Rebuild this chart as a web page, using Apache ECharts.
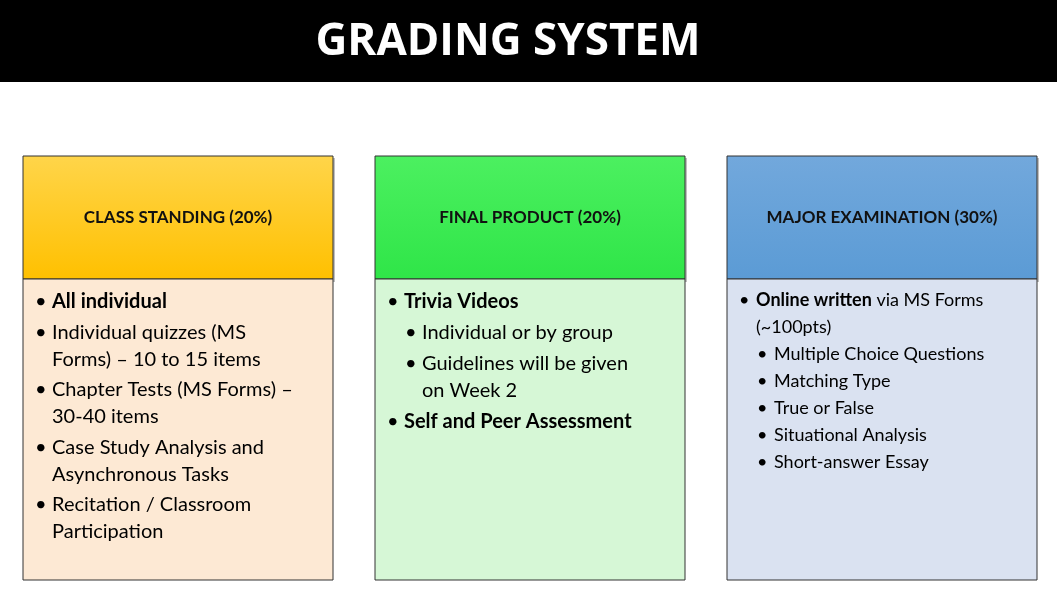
<!DOCTYPE html>
<html><head><meta charset="utf-8">
<script src="https://cdn.jsdelivr.net/npm/echarts@6/dist/echarts.min.js"></script>
<style>html,body{margin:0;padding:0;background:#fff}#c{width:1057px;height:605px}</style>
</head><body><div id="c"></div>
<script>
const title = "GRADING SYSTEM";
const headers = ["CLASS STANDING (20%)", "FINAL PRODUCT (20%)", "MAJOR EXAMINATION (30%)"];
const headerColors = [["#FFD54A","#FFC000"],["#4CF060","#2FE548"],["#72A8DC","#5B9BD5"]];
const bodyColors = ["#FDE9D4","#D6F7D6","#DAE2F1"];
// [text, level(0/1), bullet start?, bold prefix]
const box1 = [
  ["All individual",0,true,"All individual"],
  ["Individual quizzes (MS",0,true,""],["Forms) – 10 to 15 items",0,false,""],
  ["Chapter Tests (MS Forms) –",0,true,""],["30-40 items",0,false,""],
  ["Case Study Analysis and",0,true,""],["Asynchronous Tasks",0,false,""],
  ["Recitation / Classroom",0,true,""],["Participation",0,false,""]
];
const box2 = [
  ["Trivia Videos",0,true,"Trivia Videos"],
  ["Individual or by group",1,true,""],
  ["Guidelines will be given",1,true,""],["on Week 2",1,false,""],
  ["Self and Peer Assessment",0,true,"Self and Peer Assessment"]
];
const box3 = [
  [" via MS Forms",0,true,"Online written"],
  ["(~100pts)",0,false,""],
  ["Multiple Choice Questions",1,true,""],
  ["Matching Type",1,true,""],
  ["True or False",1,true,""],
  ["Situational Analysis",1,true,""],
  ["Short-answer Essay",1,true,""]
];
const boxes = [box1, box2, box3];
const boxX = [23, 375, 727], boxW = 310;
const fontSizes = [20, 20, 18], lineH = [27, 27, 27], gaps = [3.5, 4, 0];
const FONT = "Lato, 'Liberation Sans', sans-serif";

const g = [];
g.push({type:'rect',shape:{x:0,y:0,width:1057,height:82},style:{fill:'#000'}});
g.push({type:'text',style:{text:title,x:508,y:42,align:'center',verticalAlign:'middle',fill:'#fff',font:"bold 44px 'Open Sans', sans-serif"}});
boxes.forEach((lines,b)=>{
  const x=boxX[b];
  g.push({type:'rect',shape:{x:x+2,y:158,width:boxW,height:124},style:{fill:'rgba(0,0,0,0.25)'}});
  g.push({type:'rect',shape:{x:x,y:156,width:boxW,height:123},style:{fill:new echarts.graphic.LinearGradient(0,0,0,1,[{offset:0,color:headerColors[b][0]},{offset:1,color:headerColors[b][1]}]),stroke:'#333',lineWidth:1}});
  g.push({type:'text',style:{text:headers[b],x:x+boxW/2,y:218,align:'center',verticalAlign:'middle',fill:'#111',font:"bold 17px "+FONT}});
  g.push({type:'rect',shape:{x:x,y:279,width:boxW,height:301},style:{fill:bodyColors[b],stroke:'#333',lineWidth:1}});
  const fs=fontSizes[b]; let y=(b===2?300:302);
  lines.forEach((l,i)=>{
    if(i>0){ y+=lineH[b]; if(l[2]) y+=gaps[b]; }
    const indent = l[1]*18;
    const bx = x+12+indent, tx = x+29+indent;
    if(l[2]) g.push({type:'text',style:{text:'•',x:bx,y:y,verticalAlign:'middle',fill:'#000',font:fs+"px "+FONT}});
    if(l[3]){
      const rest = l[0]===l[3]?"":l[0];
      g.push({type:'text',style:{text:'{b|'+l[3]+'}{n|'+rest+'}',x:tx,y:y,verticalAlign:'middle',rich:{b:{font:"bold "+fs+"px "+FONT,fill:'#000'},n:{font:fs+"px "+FONT,fill:'#000'}}}});
    } else {
      g.push({type:'text',style:{text:l[0],x:tx,y:y,verticalAlign:'middle',fill:'#000',font:fs+"px "+FONT}});
    }
  });
});
const chart = echarts.init(document.getElementById('c'));
chart.setOption({graphic:g});
</script></body></html>
